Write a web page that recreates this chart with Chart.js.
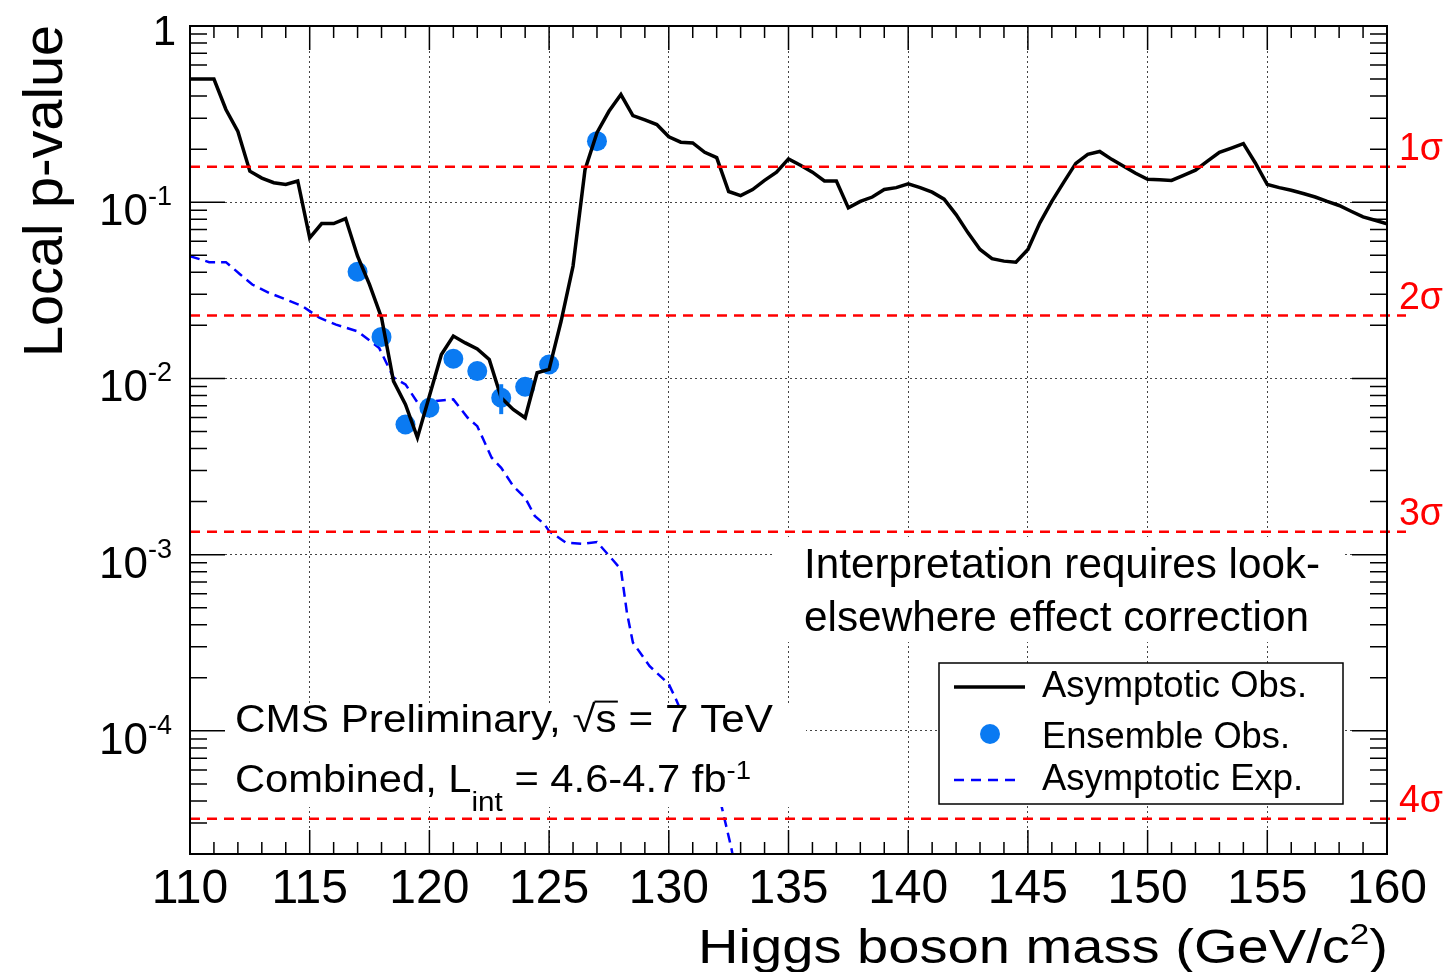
<!DOCTYPE html>
<html>
<head>
<meta charset="utf-8">
<script src="https://cdn.jsdelivr.net/npm/chart.js@4.4.1/dist/chart.umd.min.js"></script>
<style>
  html, body { margin: 0; padding: 0; background: #fff; }
  #wrap { width: 1454px; height: 972px; }
</style>
</head>
<body>
<div id="wrap"><canvas id="c" width="1454" height="972"></canvas></div>
<script>
// Higgs mass points (GeV/c^2) and local p-values
const obsMass = [110, 111, 111.5, 112, 112.5, 113, 113.5, 114, 114.5, 115, 115.5, 116, 116.5, 117, 117.5, 118, 118.5, 119, 119.5, 120,
  120.5, 121, 121.5, 122, 122.5, 123, 123.5, 124, 124.5, 125, 125.5, 126, 126.5, 127, 127.5, 128, 128.5, 129, 129.5, 130,
  130.5, 131, 131.5, 132, 132.5, 133, 133.5, 134, 134.5, 135, 135.5, 136, 136.5, 137, 137.5, 138, 138.5, 139, 139.5, 140,
  140.5, 141, 141.5, 142, 142.5, 143, 143.5, 144, 144.5, 145, 145.5, 146, 146.5, 147, 147.5, 148, 148.5, 149, 149.5, 150,
  150.5, 151, 151.5, 152, 152.5, 153, 153.5, 154, 154.5, 155, 155.5, 156, 156.5, 157, 157.5, 158, 158.5, 159, 159.5, 160];
const obsP = [0.50, 0.50, 0.336, 0.252, 0.150, 0.137, 0.129, 0.126, 0.132, 0.0628, 0.0757, 0.0757, 0.0808, 0.0494, 0.0341, 0.0221, 0.00966, 0.00712, 0.00461, 0.00794,
  0.01368, 0.0174, 0.0159, 0.0147, 0.0128, 0.00777, 0.00667, 0.00598, 0.01077, 0.01125, 0.0211, 0.0434, 0.153, 0.248, 0.328, 0.408, 0.310, 0.293, 0.276, 0.235,
  0.219, 0.217, 0.192, 0.179, 0.115, 0.109, 0.118, 0.133, 0.148, 0.176, 0.162, 0.148, 0.132, 0.132, 0.0929, 0.101, 0.107, 0.118, 0.121, 0.127,
  0.121, 0.114, 0.104, 0.0851, 0.0670, 0.0539, 0.0478, 0.0463, 0.0457, 0.0539, 0.0764, 0.101, 0.130, 0.166, 0.187, 0.194, 0.175, 0.160, 0.146, 0.135,
  0.134, 0.133, 0.142, 0.152, 0.171, 0.192, 0.203, 0.215, 0.167, 0.126, 0.121, 0.117, 0.112, 0.107, 0.101, 0.0958, 0.0889, 0.0826, 0.079, 0.0755];

const expMass = [110, 110.8, 111.5, 112.1, 112.6, 113.3, 114, 114.7, 115.4, 116.1, 117, 117.9, 118.5, 119, 119.6, 120.2, 121, 121.6, 122, 122.25,
  122.6, 123, 123.5, 124, 124.4, 124.8, 125, 125.7, 126.4, 127, 127.7, 128, 128.25, 128.5, 129.2, 130, 130.3, 132.2, 132.6, 132.8];
const expP = [0.0494, 0.0457, 0.0457, 0.0389, 0.0341, 0.0306, 0.0281, 0.0257, 0.0221, 0.0202, 0.0185, 0.0149, 0.0101, 0.00925, 0.00697, 0.00744, 0.00760, 0.00598, 0.00536, 0.00451,
  0.00355, 0.00311, 0.00245, 0.00210, 0.00166, 0.00149, 0.00136, 0.00117, 0.00115, 0.00118, 0.00092, 0.000825, 0.000469, 0.000317, 0.000233, 0.000184, 0.000151, 0.0000375, 0.000022, 0.000016];

const ensMass = [117, 118, 119, 120, 121, 122, 123, 124, 125, 127];
const ensP = [0.0403, 0.0172, 0.00548, 0.00682, 0.01293, 0.0110, 0.00777, 0.00897, 0.0120, 0.222];
const ensErr = [0, 0, 0, 0, 0, 0, 0.0015, 0, 0, 0];

const sigmaP = [0.1587, 0.02275, 0.00135, 3.167e-5];
const sigmaLabels = ['1σ', '2σ', '3σ', '4σ'];

const xTickVals = [110, 115, 120, 125, 130, 135, 140, 145, 150, 155, 160];
const yDecades = [1, 1e-1, 1e-2, 1e-3, 1e-4];
const yExps = ['', '-1', '-2', '-3', '-4'];
const seriesLabels = ['Asymptotic Obs.', 'Ensemble Obs.', 'Asymptotic Exp.'];

const FONT = '"Liberation Sans", Arial, Helvetica, sans-serif';
const BLUE = '#0a7af2';

// draws a list of runs [text, size, dy, overline] as one piece of text, optionally fitted to a width
function richText(ctx, runs, x, y, opt) {
  opt = opt || {};
  ctx.save();
  let total = 0;
  const ws = runs.map(r => {
    ctx.font = r[1] + 'px ' + FONT;
    const w = ctx.measureText(r[0]).width;
    total += w;
    return w;
  });
  const sx = opt.width ? opt.width / total : 1;
  let x0 = x;
  if (opt.align === 'right') x0 = x - total * sx;
  if (opt.align === 'center') x0 = x - total * sx / 2;
  ctx.translate(x0, y);
  if (opt.rotate) ctx.rotate(opt.rotate);
  ctx.scale(sx, 1);
  ctx.fillStyle = opt.color || '#000';
  ctx.strokeStyle = opt.color || '#000';
  ctx.textBaseline = 'alphabetic';
  let cx = 0;
  runs.forEach((r, i) => {
    ctx.font = r[1] + 'px ' + FONT;
    ctx.fillText(r[0], cx, r[2] || 0);
    if (r[3]) {
      ctx.lineWidth = 2;
      ctx.beginPath();
      ctx.moveTo(cx - 1, -r[1] * 0.8);
      ctx.lineTo(cx + ws[i] + 1, -r[1] * 0.8);
      ctx.stroke();
    }
    cx += ws[i];
  });
  ctx.restore();
}

const decor = {
  id: 'decor',
  afterDatasetsDraw(chart) {
    const ctx = chart.ctx, xs = chart.scales.x, ys = chart.scales.y, a = chart.chartArea;

    // error bars on the ensemble points
    ctx.save();
    ctx.strokeStyle = BLUE;
    ctx.lineWidth = 4;
    ensMass.forEach((m, i) => {
      if (!ensErr[i]) return;
      const px = xs.getPixelForValue(m);
      ctx.beginPath();
      ctx.moveTo(px, ys.getPixelForValue(ensP[i] - ensErr[i]));
      ctx.lineTo(px, ys.getPixelForValue(ensP[i] + ensErr[i]));
      ctx.stroke();
    });

    // white boxes behind the text blocks
    ctx.fillStyle = '#fff';
    ctx.fillRect(195, 705, 611, 102);
    ctx.fillRect(775, 537, 568, 105);
    ctx.restore();

    richText(ctx, [['CMS Preliminary, ', 38], ['√', 38], ['s', 38, 0, true], [' = 7 TeV', 38]], 235, 732, { width: 538 });
    richText(ctx, [['Combined, L', 38], ['int', 27, 19], [' = 4.6-4.7 fb', 38], ['-1', 25, -13]], 235, 792, { width: 516 });
    richText(ctx, [['Interpretation requires look-', 42]], 804, 578, { width: 516 });
    richText(ctx, [['elsewhere effect correction', 42]], 804, 631, { width: 505 });

    // legend
    ctx.save();
    ctx.fillStyle = '#fff';
    ctx.fillRect(939, 663, 404, 141);
    ctx.strokeStyle = '#000';
    ctx.lineWidth = 1.5;
    ctx.strokeRect(939, 663, 404, 141);
    ctx.strokeStyle = '#000';
    ctx.lineWidth = 3.5;
    ctx.beginPath(); ctx.moveTo(954, 687); ctx.lineTo(1025, 687); ctx.stroke();
    ctx.fillStyle = BLUE;
    ctx.beginPath(); ctx.arc(990, 734, 10, 0, Math.PI * 2); ctx.fill();
    ctx.strokeStyle = '#0000ff';
    ctx.lineWidth = 2.5;
    ctx.setLineDash([10, 7]);
    ctx.beginPath(); ctx.moveTo(954, 780); ctx.lineTo(1020, 780); ctx.stroke();
    ctx.restore();
    richText(ctx, [[seriesLabels[0], 36]], 1042, 697, { width: 265 });
    richText(ctx, [[seriesLabels[1], 36]], 1042, 748, { width: 248 });
    richText(ctx, [[seriesLabels[2], 36]], 1042, 790, { width: 261 });

    // sigma reference lines
    ctx.save();
    ctx.strokeStyle = '#ff0000';
    ctx.lineWidth = 2.5;
    ctx.setLineDash([10, 7]);
    sigmaP.forEach((p, i) => {
      const py = ys.getPixelForValue(p);
      ctx.beginPath();
      ctx.moveTo(a.left, py);
      ctx.lineTo(1406, py);
      ctx.stroke();
      richText(ctx, [[sigmaLabels[i], 38]], 1399, py - 7, { color: '#ff0000', width: 44 });
    });
    ctx.restore();

    // frame and inward ticks
    ctx.save();
    ctx.strokeStyle = '#000';
    ctx.lineWidth = 1.5;
    ctx.beginPath();
    for (let m = 110; m <= 160; m++) {
      const px = xs.getPixelForValue(m);
      const len = m % 5 === 0 ? 24 : 12;
      ctx.moveTo(px, a.bottom); ctx.lineTo(px, a.bottom - len);
      ctx.moveTo(px, a.top); ctx.lineTo(px, a.top + len);
    }
    for (let e = -5; e <= 0; e++) {
      for (let k = 1; k <= 9; k++) {
        const v = k * Math.pow(10, e);
        if (v < ys.min || v > ys.max) continue;
        const py = ys.getPixelForValue(v);
        const len = k === 1 ? 35 : 17;
        ctx.moveTo(a.left, py); ctx.lineTo(a.left + len, py);
        ctx.moveTo(a.right, py); ctx.lineTo(a.right - len, py);
      }
    }
    ctx.stroke();
    ctx.lineWidth = 2;
    ctx.strokeRect(a.left, a.top, a.right - a.left, a.bottom - a.top);
    ctx.restore();

    // axis labels
    xTickVals.forEach(v => {
      richText(ctx, [[String(v), 48]], xs.getPixelForValue(v), 903, { align: 'center' });
    });
    yDecades.forEach((v, i) => {
      const py = ys.getPixelForValue(v);
      if (!yExps[i]) {
        richText(ctx, [['1', 42]], 176, py + 19, { align: 'right' });
      } else {
        richText(ctx, [['10', 44], [yExps[i], 27, -20]], 172, py + 23, { align: 'right' });
      }
    });
    richText(ctx, [['Higgs boson mass (GeV/c', 48], ['2', 30, -19], [')', 48]], 1388, 963, { align: 'right', width: 690 });
    richText(ctx, [['Local p-value', 56]], 62, 357, { rotate: -Math.PI / 2, width: 332 });
  }
};

const pts = (xsArr, ysArr) => xsArr.map((x, i) => ({ x: x, y: ysArr[i] }));

new Chart(document.getElementById('c'), {
  type: 'line',
  data: {
    datasets: [
      {
        label: seriesLabels[0],
        data: pts(obsMass, obsP),
        borderColor: '#000',
        borderWidth: 3.5,
        pointRadius: 0,
        tension: 0,
        order: 0
      },
      {
        label: seriesLabels[1],
        data: pts(ensMass, ensP),
        showLine: false,
        pointRadius: 10,
        pointBorderWidth: 0,
        pointBackgroundColor: BLUE,
        pointBorderColor: BLUE,
        order: 1
      },
      {
        label: seriesLabels[2],
        data: pts(expMass, expP),
        borderColor: '#0000ff',
        borderWidth: 2.5,
        borderDash: [10, 6],
        pointRadius: 0,
        tension: 0,
        order: 2
      }
    ]
  },
  options: {
    responsive: false,
    animation: false,
    devicePixelRatio: 1,
    layout: { padding: { top: 26, right: 67, left: 0, bottom: 0 } },
    plugins: { legend: { display: false }, tooltip: { enabled: false } },
    scales: {
      x: {
        type: 'linear',
        min: 110,
        max: 160,
        afterBuildTicks: s => { s.ticks = xTickVals.slice(1, -1).map(v => ({ value: v })); },
        afterFit: s => { s.height = 118; },
        ticks: { display: false },
        grid: { color: '#444', lineWidth: 1, drawTicks: false },
        border: { display: false, dash: [2, 3] }
      },
      y: {
        type: 'logarithmic',
        min: 2e-5,
        max: 1,
        afterBuildTicks: s => { s.ticks = yDecades.slice(1).map(v => ({ value: v })); },
        afterFit: s => { s.width = 190; },
        ticks: { display: false },
        grid: { color: '#444', lineWidth: 1, drawTicks: false },
        border: { display: false, dash: [2, 3] }
      }
    }
  },
  plugins: [decor]
});
</script>
</body>
</html>
